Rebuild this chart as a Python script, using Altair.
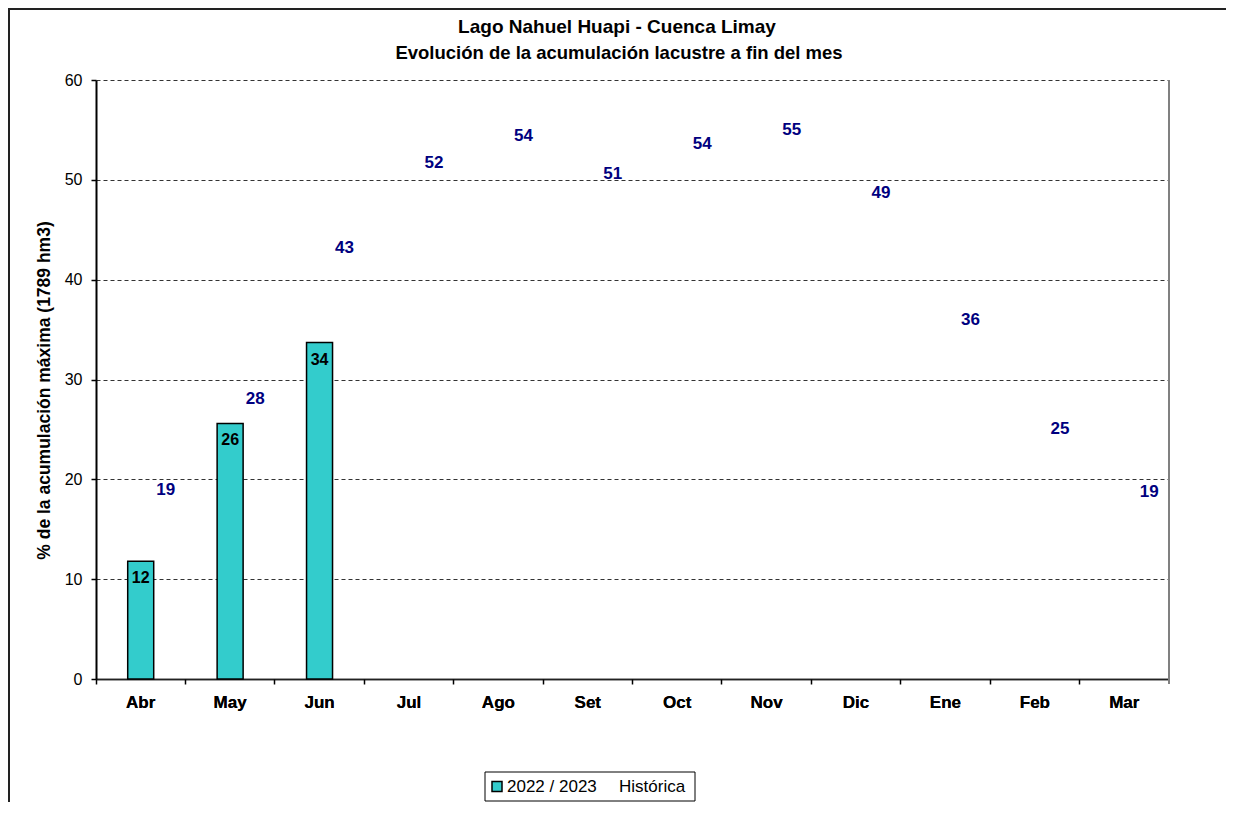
import altair as alt
import pandas as pd

# ---- data ----
months = ["Abr", "May", "Jun", "Jul", "Ago", "Set", "Oct", "Nov", "Dic", "Ene", "Feb", "Mar"]
actual_months = ["Abr", "May", "Jun"]
actual_values = [11.8, 25.6, 33.7]
historic_values = [18.9, 28.0, 43.2, 51.7, 54.4, 50.6, 53.6, 55.0, 48.7, 36.0, 25.0, 18.7]
y_ticks = [0, 10, 20, 30, 40, 50, 60]
title_lines = ["Lago Nahuel Huapi - Cuenca Limay",
               "Evolución de la acumulación lacustre a fin del mes"]
y_title = "% de la acumulación máxima (1789 hm3)"
legend_labels = ["2022 / 2023", "Histórica"]

bars_df = pd.DataFrame({"mes": actual_months, "valor": actual_values})
hist_df = pd.DataFrame({"mes": months, "valor": historic_values})
one = pd.DataFrame({"a": [0]})

FONT = "Liberation Sans"
W, H = 1073, 599
BAR = "#33CCCC"
NAVY = "#000080"

xscale = alt.Scale(domain=months, paddingInner=0, paddingOuter=0)
yscale = alt.Scale(domain=[0, 60], nice=False, zero=True)

x_label_axis = alt.Axis(
    title=None, orient="bottom", labelFont=FONT, labelFontSize=17, labelFontWeight="bold",
    labelColor="black", ticks=False, domain=True, domainColor="#222222", domainWidth=1.5,
    labelPadding=15, labelAngle=0, grid=False,
)
x_tick_axis = alt.Axis(
    title=None, orient="bottom", labels=False, ticks=True, tickSize=5, tickColor="black",
    tickWidth=1.5, bandPosition=0, domain=False, grid=False,
)
y_axis = alt.Axis(
    title=y_title, values=y_ticks, grid=True, gridDash=[4, 3], gridColor="#333333",
    gridWidth=1, tickSize=5, tickColor="black", tickWidth=1.5, domainColor="black", domainWidth=2,
    labelFont=FONT, labelFontSize=16, labelColor="black", labelPadding=9,
    titleFont=FONT, titleFontSize=17.5, titleFontWeight="bold", titleColor="black",
    titlePadding=11, titleY=310,
)

bars = alt.Chart(bars_df).mark_bar(size=26, fill=BAR, stroke="black", strokeWidth=1.5).encode(
    x=alt.X("mes:N", scale=xscale, sort=months, axis=x_label_axis),
    y=alt.Y("valor:Q", scale=yscale, axis=y_axis),
)

bar_labels = alt.Chart(bars_df).mark_text(
    baseline="middle", dy=17, font=FONT, fontSize=16, fontWeight="bold", color="black"
).encode(
    x=alt.X("mes:N", scale=xscale, sort=months, axis=x_label_axis),
    y=alt.Y("valor:Q", scale=yscale, axis=y_axis),
    text=alt.Text("valor:Q", format=".0f"),
)

hist_labels = alt.Chart(hist_df).mark_text(
    dx=25, baseline="middle", align="center", font=FONT, fontSize=17, fontWeight="bold", color=NAVY
).encode(
    x=alt.X("mes:N", scale=xscale, sort=months, axis=x_tick_axis),
    y=alt.Y("valor:Q", scale=yscale, axis=y_axis),
    text=alt.Text("valor:Q", format=".0f"),
)

# right border of plot area
right_border = alt.Chart(one).mark_rule(color="#808080", strokeWidth=2).encode(
    x=alt.value(W), y=alt.value(0), y2=alt.value(H + 5)
)

# outer chart frame
frame = alt.Chart(one).mark_rect(fill="transparent", stroke="#222222", strokeWidth=2).encode(
    x=alt.value(-87), x2=alt.value(W + 200), y=alt.value(-71), y2=alt.value(H + 300)
)

# title (two lines)
title1 = alt.Chart(one).mark_text(
    align="center", baseline="middle", font=FONT, fontSize=19, fontWeight="bold",
    color="black", text=title_lines[0]
).encode(x=alt.value(521), y=alt.value(-53))
title2 = alt.Chart(one).mark_text(
    align="center", baseline="middle", font=FONT, fontSize=18.5, fontWeight="bold",
    color="black", text=title_lines[1]
).encode(x=alt.value(523), y=alt.value(-27))

# legend (drawn)
leg_box = alt.Chart(one).mark_rect(fill="white", stroke="black", strokeWidth=1).encode(
    x=alt.value(389), x2=alt.value(599), y=alt.value(692), y2=alt.value(721)
)
leg_sq = alt.Chart(one).mark_rect(fill=BAR, stroke="black", strokeWidth=1.5).encode(
    x=alt.value(396), x2=alt.value(406), y=alt.value(701.5), y2=alt.value(711.5)
)
leg_t1 = alt.Chart(one).mark_text(
    align="left", baseline="middle", font=FONT, fontSize=17, color="black", text=legend_labels[0]
).encode(x=alt.value(411), y=alt.value(707))
leg_t2 = alt.Chart(one).mark_text(
    align="left", baseline="middle", font=FONT, fontSize=17, color="black", text=legend_labels[1]
).encode(x=alt.value(523), y=alt.value(707))

chart = alt.layer(
    frame, bars, bar_labels, hist_labels, right_border, title1, title2,
    leg_box, leg_sq, leg_t1, leg_t2
).resolve_axis(x="independent").properties(
    width=W, height=H,
    autosize=alt.AutoSizeParams(type="none"),
    padding={"left": 88, "top": 72, "right": 57, "bottom": 123},
    background="white",
).configure_view(stroke=None)

chart.save("out.html", embed_options={"renderer": "svg", "actions": False})
